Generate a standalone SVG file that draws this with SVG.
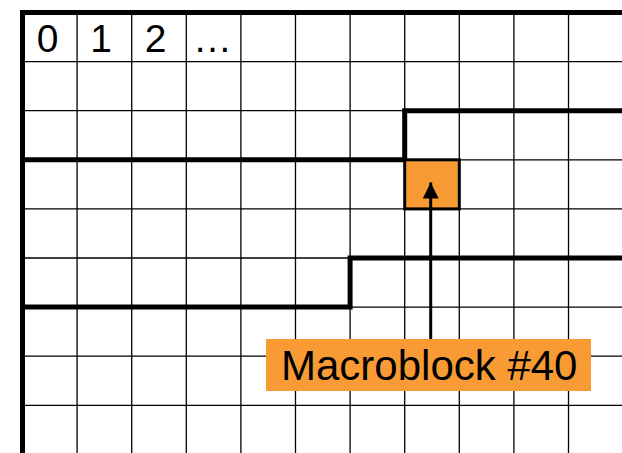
<svg xmlns="http://www.w3.org/2000/svg" width="622" height="453" viewBox="0 0 622 453">
<style>
.grid{stroke:#000;stroke-width:1.3;fill:none}
.thick{stroke:#000;stroke-width:5;fill:none;stroke-linejoin:miter}
.lbl{font-family:"Liberation Sans",Arial,sans-serif;fill:#000}
</style>
<defs>
<marker id="ah" markerWidth="16" markerHeight="16" refX="16" refY="8" orient="auto" markerUnits="userSpaceOnUse">
<path d="M0,0 L16,8 L0,16 Z" fill="#000"/>
</marker>
</defs>
<rect width="622" height="453" fill="#fff"/>
<g id="grid" class="grid">
<path d="M77.1,12V453M131.7,12V453M186.3,12V453M240.9,12V453M295.5,12V453M350.1,12V453M404.7,12V453M459.3,12V453M513.9,12V453M568.5,12V453"/>
<path d="M22,61.6H622M22,110.7H622M22,159.8H622M22,208.9H622M22,258H622M22,307.1H622M22,356.2H622M22,405.3H622"/>
</g>
<g id="borders" class="thick">
<path d="M22.5,453V12.5H622"/>
<path d="M20,159.8H404.7V110.7H622"/>
<path d="M20,307.1H350.1V258H622"/>
</g>
<g id="macroblock40">
<rect x="404.7" y="159.8" width="54.6" height="49.1" fill="#F99B34" stroke="#000" stroke-width="3"/>
</g>
<g id="headers" class="lbl" font-size="39" text-anchor="middle">
<text x="47.5" y="52">0</text>
<text x="101" y="52">1</text>
<text x="155.5" y="52">2</text>
<text x="212.5" y="52">…</text>
</g>
<g id="connectors">
<line x1="430.7" y1="339" x2="430.7" y2="182.5" stroke="#000" stroke-width="3" marker-end="url(#ah)"/>
</g>
<g id="label">
<rect x="266" y="339" width="325" height="52" fill="#F99B34"/>
<text class="lbl" x="281" y="380" font-size="42">Macroblock #40</text>
</g>
</svg>
